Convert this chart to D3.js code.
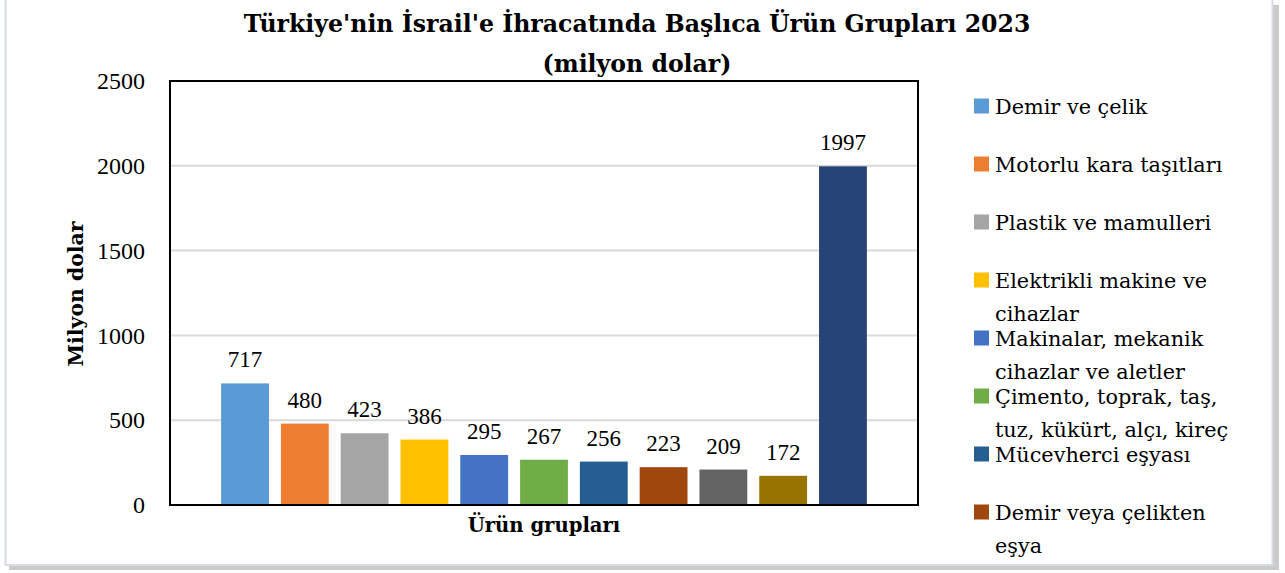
<!DOCTYPE html>
<html>
<head>
<meta charset="utf-8">
<script src="https://cdn.jsdelivr.net/npm/d3@7"></script>
<style>
  body { margin: 0; background: #fff; }
  text { font-family: "DejaVu Serif", serif; fill: #000; }
  .num { font-family: "Liberation Serif", serif; }
</style>
</head>
<body>
<svg class="chart"></svg>
<script>
// Türkiye -> İsrail ihracatı 2023, başlıca ürün grupları (milyon $)
var categories = [
  "Demir ve çelik",
  "Motorlu kara taşıtları",
  "Plastik ve mamulleri",
  "Elektrikli makine ve cihazlar",
  "Makinalar, mekanik cihazlar ve aletler",
  "Çimento, toprak, taş, tuz, kükürt, alçı, kireç",
  "Mücevherci eşyası",
  "Demir veya çelikten eşya",
  "Örme giyim eşyası",
  "Alüminyum",
  "Diğer"
];
var values = [717, 480, 423, 386, 295, 267, 256, 223, 209, 172, 1997];
var colors = ["#5b9bd5", "#ed7d31", "#a5a5a5", "#ffc000", "#4472c4", "#70ad47",
              "#255e91", "#9e480e", "#636363", "#997300", "#264478"];
// legend lines as wrapped in the original (only the first 8 fit)
var legendLines = [
  ["Demir ve çelik"],
  ["Motorlu kara taşıtları"],
  ["Plastik ve mamulleri"],
  ["Elektrikli makine ve", "cihazlar"],
  ["Makinalar, mekanik", "cihazlar ve aletler"],
  ["Çimento, toprak, taş,", "tuz, kükürt, alçı, kireç"],
  ["Mücevherci eşyası"],
  ["Demir veya çelikten", "eşya"]
];
var yTicks = [0, 500, 1000, 1500, 2000, 2500];

var width = 1285, height = 573;
var plot = { left: 170, right: 918, top: 81, bottom: 505 };

var svg = d3.select(".chart")
  .attr("width", width)
  .attr("height", height);

// outer frame with shadow
svg.append("rect")
  .attr("x", 9).attr("y", 5).attr("width", 1270).attr("height", 565)
  .attr("fill", "#a8a8a8").attr("opacity", 0.6);
svg.append("rect")
  .attr("x", 5.5).attr("y", -2).attr("width", 1267).attr("height", 567)
  .attr("fill", "#fff").attr("stroke", "#d6dbe6").attr("stroke-width", 2);

var x = d3.scaleBand()
  .domain(categories)
  .range([plot.left, plot.right])
  .paddingInner(0.2)
  .paddingOuter(0.855);

var y = d3.scaleLinear()
  .domain([0, 2500])
  .range([plot.bottom, plot.top]);

// gridlines
svg.append("g")
  .selectAll("line")
  .data(yTicks.slice(1, -1))
  .join("line")
  .attr("x1", plot.left).attr("x2", plot.right)
  .attr("y1", function(d) { return y(d); })
  .attr("y2", function(d) { return y(d); })
  .attr("stroke", "#d9d9d9").attr("stroke-width", 2);

// y axis labels
var yAxis = d3.axisLeft(y).tickValues(yTicks).tickFormat(d3.format("d"))
  .tickSize(0).tickPadding(25);
svg.append("g")
  .attr("transform", "translate(" + plot.left + ",0)")
  .call(yAxis)
  .call(function(g) { g.select(".domain").remove(); })
  .selectAll("text")
  .attr("class", "num")
  .style("font-size", "24px")
  .attr("fill", "#000");

// bars
svg.append("g")
  .selectAll("rect")
  .data(values)
  .join("rect")
  .attr("x", function(d, i) { return x(categories[i]); })
  .attr("y", function(d) { return y(d); })
  .attr("width", x.bandwidth())
  .attr("height", function(d) { return y(0) - y(d); })
  .attr("fill", function(d, i) { return colors[i]; });

// value labels
svg.append("g")
  .selectAll("text")
  .data(values)
  .join("text")
  .attr("class", "num")
  .attr("x", function(d, i) { return x(categories[i]) + x.bandwidth() / 2; })
  .attr("y", function(d) { return y(d) - 16; })
  .attr("text-anchor", "middle")
  .style("font-size", "23px")
  .text(function(d) { return d; });

// plot border
svg.append("rect")
  .attr("x", plot.left).attr("y", plot.top)
  .attr("width", plot.right - plot.left).attr("height", plot.bottom - plot.top)
  .attr("fill", "none").attr("stroke", "#000").attr("stroke-width", 2);

// titles
svg.append("text")
  .attr("x", 637).attr("y", 32)
  .attr("text-anchor", "middle")
  .style("font-size", "23.6px").style("font-weight", "bold")
  .text("Türkiye'nin İsrail'e İhracatında Başlıca Ürün Grupları 2023");
svg.append("text")
  .attr("x", 637).attr("y", 72)
  .attr("text-anchor", "middle")
  .style("font-size", "23.6px").style("font-weight", "bold")
  .text("(milyon dolar)");

svg.append("text")
  .attr("transform", "translate(83,294) rotate(-90)")
  .attr("text-anchor", "middle")
  .style("font-size", "20.4px").style("font-weight", "bold")
  .text("Milyon dolar");

svg.append("text")
  .attr("x", 544).attr("y", 532)
  .attr("text-anchor", "middle")
  .style("font-size", "19.6px").style("font-weight", "bold")
  .text("Ürün grupları");

// legend
var legend = svg.append("g")
  .selectAll("g")
  .data(legendLines)
  .join("g")
  .attr("transform", function(d, i) { return "translate(974," + (106 + 58 * i) + ")"; });

legend.append("rect")
  .attr("x", 0).attr("y", -7.5)
  .attr("width", 15).attr("height", 15)
  .attr("fill", function(d, i) { return colors[i]; });

legend.selectAll("text")
  .data(function(d) { return d; })
  .join("text")
  .attr("x", 21)
  .attr("y", function(d, j) { return 8 + 33 * j; })
  .style("font-size", "20.8px")
  .text(function(d) { return d; });
</script>
</body>
</html>
